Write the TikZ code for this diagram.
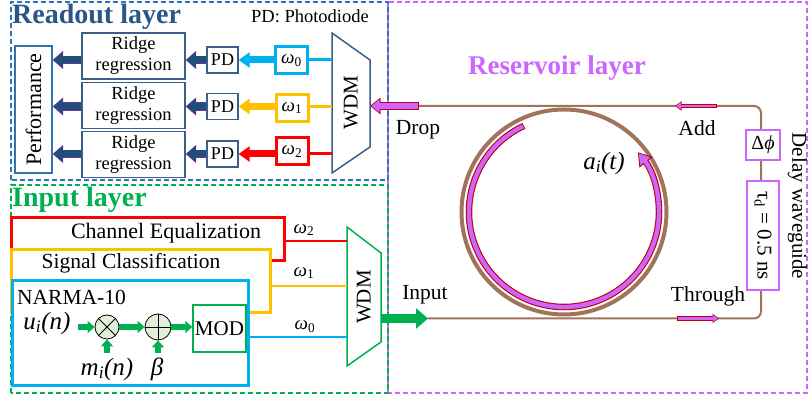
\documentclass[tikz,border=0pt]{standalone}
\usepackage{fontspec}
\setmainfont{Liberation Serif}
\usetikzlibrary{arrows.meta}
\definecolor{titleblue}{HTML}{2A5788}
\definecolor{dashblue}{HTML}{2E75B6}
\definecolor{boxblue}{HTML}{3A5F8A}
\definecolor{arrblue}{HTML}{1F4E79}
\definecolor{arrpurple}{HTML}{7030A0}
\definecolor{vio}{HTML}{CC66FF}
\definecolor{outred}{HTML}{C00000}
\definecolor{gr}{HTML}{00B050}
\definecolor{lgreen}{HTML}{E2F0D9}
\definecolor{cy}{HTML}{00B0F0}
\definecolor{yel}{HTML}{FFC000}
\definecolor{rd}{HTML}{FF0000}
\definecolor{brownw}{HTML}{A0735A}
\newcommand\fsz[2]{\fontsize{#1}{#2}\selectfont}
\newcommand\dualarrow[4]{\draw[#1] #3 -- #4; \draw[#2] #3 -- #4;}
\tikzset{
  layerbox/.style={dash pattern=on 5pt off 3pt, line width=1.1pt},
  rbox/.style={draw=boxblue, line width=1.3pt, fill=white, minimum width=103pt, minimum height=46pt, inner sep=0pt, align=center, font=\fsz{18.5}{21}},
  pdbox/.style={draw=boxblue, line width=1.3pt, fill=white, minimum width=31pt, minimum height=26pt, inner sep=0pt, font=\fsz{18}{20}},
  wbox/.style={line width=3pt, fill=white, minimum width=32pt, minimum height=27pt, inner sep=0pt, font=\fsz{19}{20}},
  dbout/.style={line width=8.5pt, draw=arrpurple, -{Triangle[length=10.5pt,width=17.5pt]}},
  dbin/.style={line width=7pt, draw=arrblue, -{Triangle[length=9pt,width=15pt]}, shorten >=1pt, shorten <=0.8pt},
  carrow/.style={line width=7pt, -{Triangle[length=11pt,width=15pt]}},
  vout/.style={line width=8.5pt, draw=outred, -{Triangle[length=10.5pt,width=16pt]}},
  vin/.style={line width=6.5pt, draw=vio, -{Triangle[length=8.5pt,width=12.5pt]}, shorten >=1.2pt, shorten <=0.8pt},
  sout/.style={line width=4.5pt, draw=outred, -{Triangle[length=6.5pt,width=9pt]}},
  sin/.style={line width=2.8pt, draw=vio, -{Triangle[length=5pt,width=6.5pt]}, shorten >=0.9pt, shorten <=0.8pt},
  garrow/.style={line width=6pt, draw=gr, -{Triangle[length=7pt,width=12pt]}},
  txt/.style={inner sep=0pt, font=\fsz{21.5}{23}},
  vbox/.style={draw=vio, line width=1.5pt, fill=white, inner sep=0pt},
}
\begin{document}
\begin{tikzpicture}[x=1pt,y=1pt]
\useasboundingbox (0,0) rectangle (809,398);
% layer frames
\draw[layerbox, draw=vio] (388,5) rectangle (807,396);
\draw[layerbox, draw=dashblue] (11,218) rectangle (388,396);
\draw[layerbox, draw=gr] (11,5) rectangle (388,213);

% ---------------- Readout layer ----------------
\node[anchor=west, inner sep=0pt, font=\bfseries\fsz{28}{30}, text=titleblue] (rt) at (12,381) {Readout layer};
\node[inner sep=0pt, font=\fsz{18.5}{20}] (pdnote) at (310,382) {PD: Photodiode};
\node[draw=dashblue, line width=1.3pt, rotate=90, minimum width=127pt, minimum height=37pt, inner sep=0pt, font=\fsz{22}{24}] (perf) at (33.5,288.5) {Performance};

\node[rbox] (rr1) at (133.5,342) {Ridge\\regression};
\node[rbox] (rr2) at (133.5,292.5) {Ridge\\regression};
\node[rbox] (rr3) at (133.5,243.5) {Ridge\\regression};

\node[pdbox] (pd1) at (222.5,338) {PD};
\node[pdbox] (pd2) at (222.5,291.5) {PD};
\node[pdbox] (pd3) at (222.5,244) {PD};

\node[wbox, draw=cy] (w0) at (291.5,337.5) {\textit{ω}\textsubscript{0}};
\node[wbox, draw=yel] (w1) at (292,290) {\textit{ω}\textsubscript{1}};
\node[wbox, draw=rd] (w2) at (292,246.5) {\textit{ω}\textsubscript{2}};

% readout WDM
\coordinate (wA) at (332,365);
\coordinate (wB) at (370,338);
\coordinate (wC) at (370,251);
\coordinate (wD) at (332,225);
\draw[draw=boxblue, line width=1.5pt, line join=miter] (wA) -- (wB) -- (wC) -- (wD) -- cycle;
\node[rotate=90, inner sep=0pt, font=\fsz{21}{22}] (wdm1) at (351,295) {WDM};

\draw[cy, line width=3pt] (w0.east |- pd1) -- (wA |- pd1);
\draw[yel, line width=3pt] (w1.east |- pd2) -- (wA |- pd2);
\draw[rd, line width=3pt] (w2.east |- pd3) -- (wA |- pd3);

\draw[carrow, draw=cy] (w0.west |- pd1) -- (pd1.east);
\draw[carrow, draw=yel] (w1.west |- pd2) -- (pd2.east);
\draw[carrow, draw=rd] (w2.west |- pd3) -- (pd3.east);

\dualarrow{dbout}{dbin}{(pd1.west)}{(pd1.west -| rr1.east)}
\dualarrow{dbout}{dbin}{(pd2.west)}{(pd2.west -| rr2.east)}
\dualarrow{dbout}{dbin}{(pd3.west)}{(pd3.west -| rr3.east)}
\dualarrow{dbout}{dbin}{(rr1.west |- pd1)}{(perf.south |- pd1)}
\dualarrow{dbout}{dbin}{(rr2.west |- pd2)}{(perf.south |- pd2)}
\dualarrow{dbout}{dbin}{(rr3.west |- pd3)}{(perf.south |- pd3)}

% ---------------- Reservoir layer ----------------
\node[inner sep=0pt, font=\bfseries\fsz{27}{29}, text=vio] (rest) at (557,330) {Reservoir layer};
\coordinate (dropS) at (419,292);
\coordinate (inS) at (428,79.5);
\coordinate (trC) at (761,292);
\coordinate (brC) at (761,79.5);
\draw[brownw, line width=2pt, rounded corners=7pt] (dropS) -- (trC) -- (brC) -- (inS);
\node[circle, draw=brownw, line width=4pt, minimum size=205pt, inner sep=0pt] (ring) at (564,186) {};

\draw[outred, line width=6.5pt, -{Triangle[length=13pt,width=16pt]}] ([shift={(115:95)}]ring.center) arc[start angle=115, end angle=399, radius=95];
\draw[vio, line width=4.3pt, -{Triangle[length=10.5pt,width=12pt]}, shorten >=1.3pt] ([shift={(115.6:95)}]ring.center) arc[start angle=115.6, end angle=399, radius=95];

\dualarrow{vout}{vin}{(dropS)}{(dropS -| wB)}
\coordinate (addS) at (717,292);
\coordinate (addE) at (675,292);
\dualarrow{sout}{sin}{(addS)}{(addE)}
\coordinate (thS) at (677,79.5);
\coordinate (thE) at (719,79.5);
\dualarrow{sout}{sin}{(thS)}{(thE)}

\node[vbox, minimum width=34pt, minimum height=30pt, font=\fsz{20}{22}] (dphi) at (763,253) {Δ\textit{ϕ}};
\node[vbox, rotate=-90, minimum width=109pt, minimum height=32pt, font=\fsz{21}{22}] (tau) at (763,162.5) {τ\textsubscript{d} = 0.5 ns};
\node[inner sep=0pt, font=\fsz{21}{22}, rotate=-90] (dly) at (797.5,192) {Delay waveguide};

\node[txt] (droplbl) at (418,268) {Drop};
\node[txt] (addlbl) at (697,270) {Add};
\node[txt] (thlbl) at (708,102) {Through};
\node[txt] (inlbl) at (425,103) {Input};
\node[inner sep=0pt, font=\itshape\fsz{25}{26}] (alab) at (604,235) {a\textsubscript{i}(t)};

% ---------------- Input layer ----------------
\node[anchor=west, inner sep=0pt, font=\bfseries\fsz{28}{30}, text=gr] (it) at (12,198) {Input layer};
\node[draw=rd, line width=2.5pt, anchor=south west, minimum width=273pt, minimum height=43pt, inner sep=0pt] (redbox) at (10,136) {};
\node[draw=yel, fill=white, line width=2.5pt, anchor=south west, minimum width=259pt, minimum height=63pt, inner sep=0pt] (yelbox) at (10,84) {};
\node[draw=cy, fill=white, line width=3pt, anchor=south west, minimum width=236pt, minimum height=105pt, inner sep=0pt] (bluebox) at (11,11) {};

\node[txt, font=\fsz{22}{23}] (cheq) at (166,165) {Channel Equalization};
\node[txt] (sigc) at (131,135) {Signal Classification};
\node[txt, anchor=west] (narma) at (17,101) {NARMA-10};

% input WDM
\coordinate (gA) at (347,171);
\coordinate (gB) at (381,145);
\coordinate (gC) at (381,56);
\coordinate (gD) at (347,32);
\draw[gr, line width=1.5pt, line join=miter] (gA) -- (gB) -- (gC) -- (gD) -- cycle;
\node[rotate=90, inner sep=0pt, font=\fsz{21}{22}] (wdm2) at (364,101) {WDM};
\coordinate (g2) at (347,157);
\coordinate (g1) at (347,112);
\coordinate (g0) at (347,61);
\draw[rd, line width=2.5pt] (g2 -| redbox.east) -- (g2);
\draw[yel, line width=2.5pt] (g1 -| yelbox.east) -- (g1);
\draw[cy, line width=2.5pt] (g0 -| bluebox.east) -- (g0);
\node[inner sep=0pt, font=\fsz{19}{20}] (l2) at (304,168) {\textit{ω}\textsubscript{2}};
\node[inner sep=0pt, font=\fsz{19}{20}] (l1) at (304,125) {\textit{ω}\textsubscript{1}};
\node[inner sep=0pt, font=\fsz{19}{20}] (l0) at (305,71) {\textit{ω}\textsubscript{0}};

% NARMA chain
\node[inner sep=0pt, font=\itshape\fsz{25}{26}] (ulab) at (47,75) {u\textsubscript{i}(n)};
\node[circle, draw, line width=0.8pt, fill=lgreen, minimum size=24pt, inner sep=0pt] (mul) at (107,71) {};
\draw[line width=0.8pt] (mul.north west) -- (mul.south east) (mul.north east) -- (mul.south west);
\node[circle, draw, line width=0.8pt, fill=lgreen, minimum size=26pt, inner sep=0pt] (plus) at (158,71) {};
\draw[line width=0.8pt] (plus.north) -- (plus.south) (plus.west) -- (plus.east);
\node[draw=gr, line width=1.5pt, minimum width=53pt, minimum height=47pt, inner sep=0pt, font=\fsz{21}{22}] (mod) at (219.5,69.5) {MOD};
\coordinate (ust) at (78,71);
\coordinate (mst) at (107,45);
\coordinate (bst) at (158,45);
\draw[garrow] (ust) -- (mul.west);
\draw[garrow] (mul.east) -- (plus.west);
\draw[garrow] (plus.east) -- (mod.west |- plus.east);
\draw[garrow] (mst) -- (mul.south);
\draw[garrow] (bst) -- (plus.south);
\node[inner sep=0pt, font=\itshape\fsz{25}{26}] (mlab) at (107,29) {m\textsubscript{i}(n)};
\node[inner sep=0pt, font=\itshape\fsz{25}{26}] (blab) at (157,29) {β};

% input arrow
\coordinate (gout) at (381,79.5);
\draw[gr, line width=9.5pt, -{Triangle[length=12pt,width=20pt]}] (gout) -- (inS);
\end{tikzpicture}
\end{document}
